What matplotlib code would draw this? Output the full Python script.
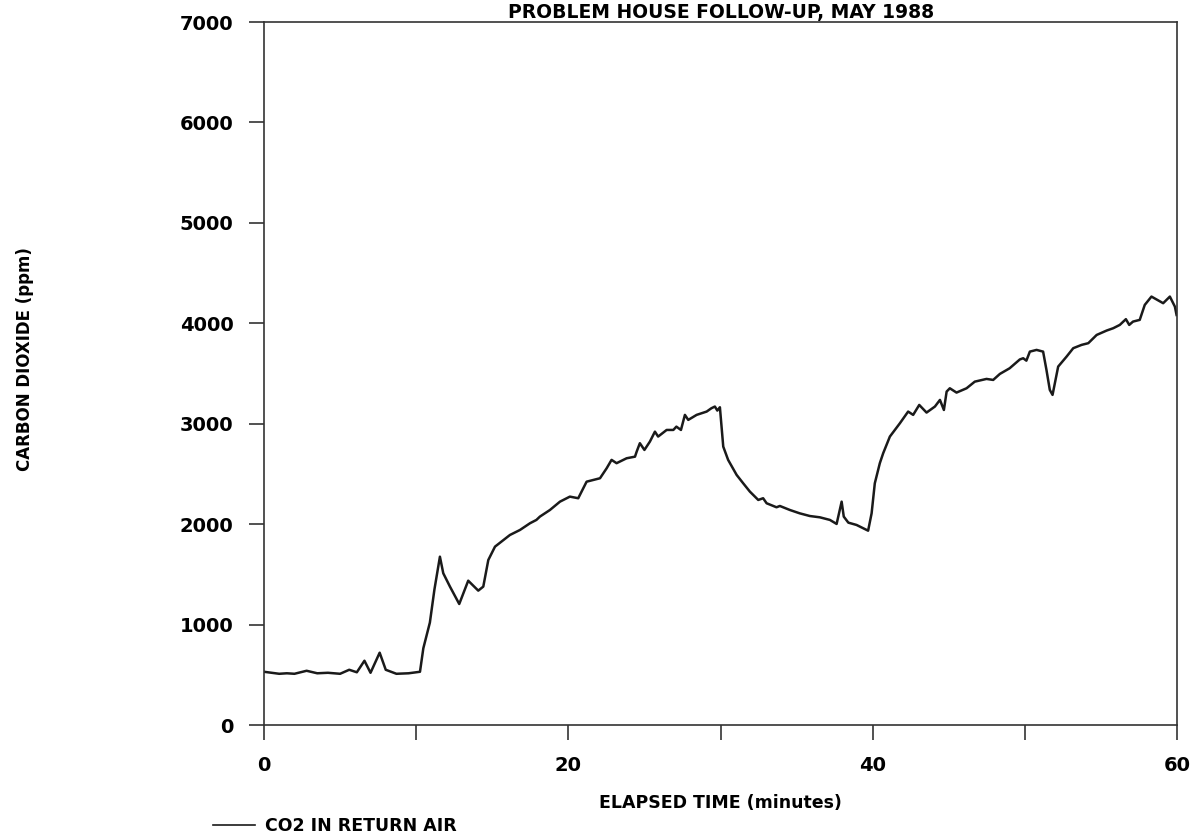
import matplotlib
matplotlib.use("Agg")
import matplotlib.pyplot as plt
from matplotlib.ticker import MultipleLocator

plt.rcParams['font.family'] = ['DejaVu Sans']
plt.rcParams['font.weight'] = 'bold'

# elapsed time (minutes) and CO2 in return air (ppm)
minutes = [0.0, 0.5, 1.0, 1.5, 2.0, 2.8, 3.5, 4.2, 5.0, 5.6, 6.1, 6.6, 7.0, 7.6, 8.0,
           8.7, 9.5, 10.25, 10.47, 10.9, 11.2, 11.56, 11.78, 12.22, 12.83, 13.42, 14.08,
           14.41, 14.74, 15.18, 16.16, 16.82, 17.48, 17.9, 18.13, 18.79, 19.45, 20.1,
           20.65, 21.2, 22.08, 22.52, 22.84, 23.17, 23.83, 24.38, 24.49, 24.7, 25.0,
           25.36, 25.69, 25.9, 26.46, 26.9, 27.1, 27.4, 27.66, 27.88, 28.43, 29.09,
           29.4, 29.63, 29.79, 29.96, 30.18, 30.5, 31.06, 31.49, 31.93, 32.48, 32.8,
           33.03, 33.68, 33.9, 34.56, 35.2, 35.87, 36.53, 37.19, 37.63, 37.96, 38.1,
           38.4, 38.94, 39.7, 39.93, 40.14, 40.47, 40.69, 41.13, 41.79, 42.33, 42.66,
           43.06, 43.54, 44.09, 44.42, 44.68, 44.86, 45.07, 45.51, 46.17, 46.71, 47.48,
           47.92, 48.36, 49.0, 49.67, 49.89, 50.1, 50.33, 50.77, 51.2, 51.42, 51.64,
           51.82, 51.97, 52.19, 52.74, 53.18, 53.73, 54.17, 54.72, 55.38, 55.81, 56.24,
           56.64, 56.86, 57.11, 57.55, 57.88, 58.32, 59.09, 59.53, 59.86, 59.97]
co2_ppm = [530, 520, 510, 515, 510, 540, 515, 520, 510, 550, 525, 640, 520, 720, 550,
           510, 515, 530, 764, 1020, 1350, 1676, 1511, 1378, 1205, 1437, 1338,
           1378, 1643, 1776, 1892, 1942, 2009, 2042, 2075, 2141, 2224, 2274,
           2258, 2423, 2457, 2557, 2640, 2607, 2656, 2672, 2722, 2806, 2739,
           2822, 2921, 2872, 2938, 2938, 2971, 2938, 3088, 3038, 3088, 3121,
           3154, 3171, 3131, 3164, 2772, 2640, 2490, 2407, 2324, 2241, 2258,
           2208, 2168, 2181, 2141, 2108, 2081, 2068, 2042, 2002, 2224, 2075,
           2015, 1992, 1935, 2108, 2407, 2607, 2706, 2872, 3005, 3121, 3088,
           3187, 3111, 3171, 3237, 3137, 3320, 3353, 3310, 3353, 3419, 3446,
           3436, 3496, 3552, 3640, 3652, 3628, 3718, 3735, 3718, 3536, 3337,
           3287, 3403, 3569, 3668, 3752, 3785, 3802, 3884, 3928, 3951, 3984,
           4041, 3984, 4017, 4034, 4183, 4266, 4200, 4266, 4166, 4083]

fig = plt.figure(figsize=(11.93, 8.4), dpi=100, facecolor='w')
ax = fig.add_axes([0.2213, 0.1369, 0.7653, 0.8369])

line, = ax.plot(minutes, co2_ppm, color='#1a1a1a', lw=1.8, label='CO2 IN RETURN AIR')

ax.set_xlim(0, 60)
ax.set_ylim(0, 7000)
ax.xaxis.set_major_locator(MultipleLocator(20))
ax.xaxis.set_minor_locator(MultipleLocator(10))
ax.yaxis.set_major_locator(MultipleLocator(1000))
ax.tick_params(axis='both', which='both', direction='out', length=11, width=1.2,
               color='#333333', labelsize=14, pad=11)
for s in ax.spines.values():
    s.set_linewidth(1.2)
    s.set_color('#333333')

# title squeezed into the strip above the frame
fig.text(0.604, 0.9965, 'PROBLEM HOUSE FOLLOW-UP, MAY 1988', ha='center', va='top',
         fontsize=13.5, fontweight='bold')
fig.text(0.604, 0.044, 'ELAPSED TIME (minutes)', ha='center', va='center',
         fontsize=12.5, fontweight='bold')
fig.text(0.021, 0.573, 'CARBON DIOXIDE (ppm)', ha='center', va='center',
         rotation=90, fontsize=12, fontweight='bold')

leg = fig.legend(handles=[line], loc='center left', bbox_to_anchor=(0.1785, 0.0167),
                 frameon=False, fontsize=12.5, handlelength=2.4, handletextpad=0.6,
                 borderpad=0, borderaxespad=0)
for h in leg.get_lines():
    h.set_linewidth(1.2)

fig.savefig('out.png', dpi=100)
